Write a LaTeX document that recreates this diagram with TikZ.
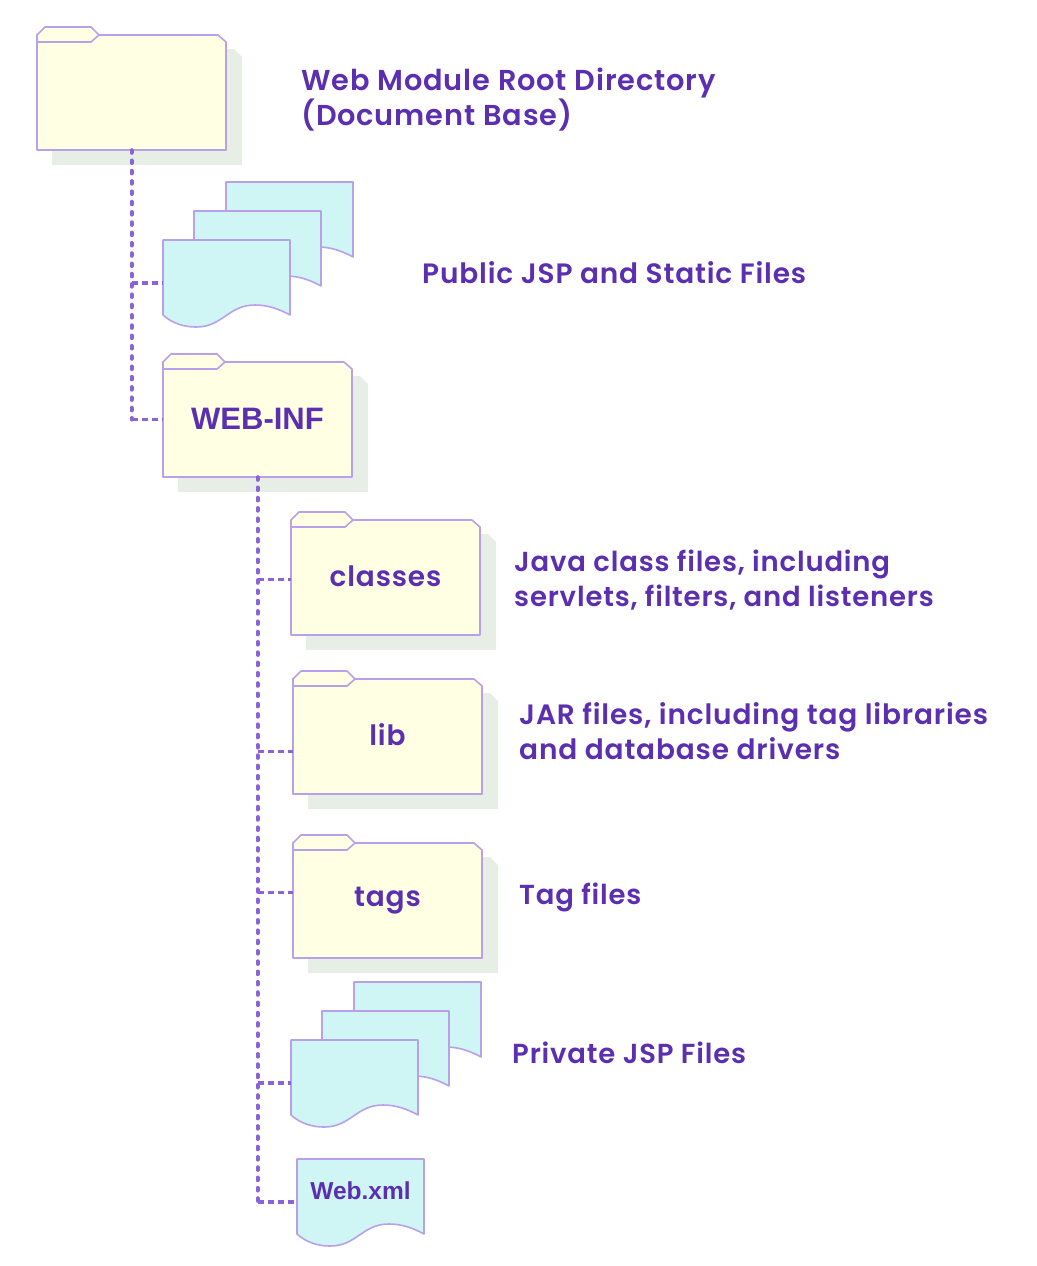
\documentclass[tikz,border=0pt]{standalone}
\usepackage{fontspec}
\setmainfont{Poppins}[BoldFont={Poppins SemiBold},LetterSpace=3]
\setsansfont{Liberation Sans}
\definecolor{inkviolet}{HTML}{5B2FB0}
\definecolor{edgeviolet}{HTML}{B9A0EA}
\definecolor{linkviolet}{HTML}{8A63D6}
\definecolor{folderfill}{HTML}{FFFFE3}
\definecolor{docfill}{HTML}{D0F5F5}
\definecolor{shadowfill}{HTML}{E6EEE6}
\tikzset{
  outline/.style={draw=edgeviolet,line width=1.6pt,line join=round},
  caption/.style={anchor=base west,align=left,inner sep=0pt,text=inkviolet,font=\fontsize{#1}{34.5}\selectfont\bfseries},
  caption/.default=27.5,
  inname/.style={inner sep=0pt,text=inkviolet,font=\fontsize{28}{30}\selectfont\bfseries},
  armname/.style={inner sep=0pt,text=inkviolet,font=\sffamily\fontsize{#1}{30}\selectfont\bfseries},
  trunk/.style={draw=linkviolet,line width=4pt,line cap=round,dash pattern=on 2.6pt off 7.7pt},
  branch/.style={draw=linkviolet,line width=3.4pt,dash pattern=on 6pt off 4pt},
}
% #1 name, #2 #3 corner of the tab, #4 text, #5 text style
\newcommand{\folder}[5]{
\fill[shadowfill] (#2+15,#3+138)--(#2+205,#3+138)--(#2+205,#3+30)--(#2+197,#3+22)--(#2+189,#3+22)--(#2+189,#3+123)--(#2+15,#3+123)--cycle;
\draw[outline,fill=folderfill] (#2,#3+8)--(#2+181,#3+8)--(#2+189,#3+15)--(#2+189,#3+123)--(#2,#3+123)--cycle;
\draw[outline,fill=folderfill] (#2,#3+15)--(#2,#3+8)--(#2+8,#3)--(#2+54,#3)--(#2+62,#3+8)--(#2+54,#3+15)--cycle;
\node[minimum width=189pt,minimum height=115pt,#5] (#1) at (#2+94.5,#3+65.5){#4};
}
% #1 name, #2 #3 top left corner
\newcommand{\doc}[3]{
\draw[outline,fill=docfill] (#2,#3)--(#2+127,#3)--(#2+127,#3+75)
 .. controls (#2+116,#3+69) and (#2+105,#3+65) .. (#2+92,#3+65)
 .. controls (#2+65,#3+65) and (#2+60,#3+87) .. (#2+33,#3+87)
 .. controls (#2+22,#3+87) and (#2+10,#3+84) .. (#2,#3+75)--cycle;
\node[minimum width=127pt,minimum height=86pt,inner sep=0pt] (#1) at (#2+63.5,#3+43){};
}
\begin{document}
\begin{tikzpicture}[x=1pt,y=-1pt]
\useasboundingbox (0,0) rectangle (1036,1266);
\folder{root}{37}{27}{}{inname}
\doc{pubc}{226}{182}
\doc{pubb}{194}{211}
\doc{pub}{163}{240}
\folder{webinf}{163}{354}{\raisebox{2pt}{WEB-INF}}{armname=31}
\folder{classes}{291}{512}{\raisebox{2pt}{classes}}{inname}
\folder{lib}{293}{671}{\raisebox{3pt}{lib}}{inname}
\folder{tags}{293}{835}{\raisebox{-2pt}{tags}}{inname}
\doc{prvc}{354}{982}
\doc{prvb}{322}{1011}
\doc{prv}{291}{1040}
\doc{webxml}{297}{1159}
\node[armname=24.5] (webxmlname) at ([yshift=11pt]webxml.center){Web.xml};
%captions
\node[caption=28.8] (rootcap) at (301,125){Web Module Root Directory\\(Document Base)};
\node[caption=28] (pubcap) at (422,283){Public JSP and Static Files};
\node[caption] (classescap) at (514,606){Java class files, including\\servlets, filters, and listeners};
\node[caption=28] (libcap) at (519,759){JAR files, including tag libraries\\and database drivers};
\node[caption] (tagscap) at (519,904){Tag files};
\node[caption] (prvcap) at (512,1063){Private JSP Files};
%connectors
\draw[trunk] (root.south)--(root.south|-webinf.west);
\draw[branch] (root.south|-webinf.west)--(webinf.west);
\draw[branch] (root.south|-pub.west)--(pub.west);
\draw[trunk] (webinf.south)--(webinf.south|-webxml.west);
\draw[branch] (webinf.south|-webxml.west)--(webxml.west);
\draw[branch] ([yshift=-2pt]webinf.south|-classes.west)--([yshift=-2pt]classes.west);
\draw[branch] ([yshift=-15pt]webinf.south|-lib.west)--([yshift=-15pt]lib.west);
\draw[branch] ([yshift=8pt]webinf.south|-tags.west)--([yshift=8pt]tags.west);
\draw[branch] (webinf.south|-prv.west)--(prv.west);
\end{tikzpicture}
\end{document}
